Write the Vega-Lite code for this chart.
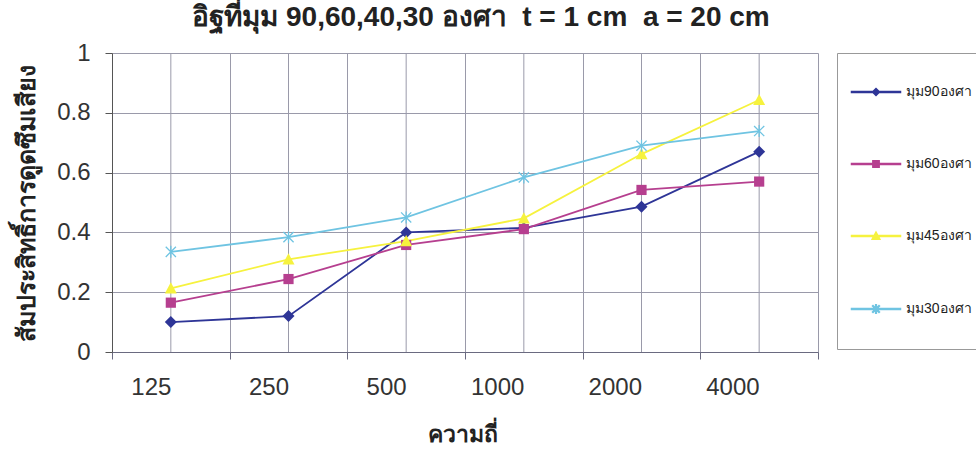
{
  "$schema": "https://vega.github.io/schema/vega-lite/v6.json",
  "autosize": {"type": "none"},
  "width": 706,
  "height": 299,
  "padding": {"left": 112, "top": 53, "right": 158, "bottom": 104},
  "background": "white",
  "title": {
    "text": "อิฐที่มุม 90,60,40,30 องศา\u00a0\u00a0t = 1 cm\u00a0\u00a0a = 20 cm",
    "font": "Liberation Sans, sans-serif",
    "fontSize": 28,
    "fontWeight": "bold",
    "color": "#222",
    "anchor": "middle",
    "dx": 16,
    "dy": 36,
    "baseline": "alphabetic",
    "offset": 23
  },
  "config": {
    "view": {"stroke": null},
    "axis": {"labelFont": "Liberation Sans, sans-serif", "titleFont": "Liberation Sans, sans-serif"}
  },
  "datasets": {
    "main": [
      {"freq": 125, "series": "มุม90องศา", "alpha": 0.10},
      {"freq": 250, "series": "มุม90องศา", "alpha": 0.12},
      {"freq": 500, "series": "มุม90องศา", "alpha": 0.40},
      {"freq": 1000, "series": "มุม90องศา", "alpha": 0.415},
      {"freq": 2000, "series": "มุม90องศา", "alpha": 0.486},
      {"freq": 4000, "series": "มุม90องศา", "alpha": 0.67},
      {"freq": 125, "series": "มุม60องศา", "alpha": 0.165},
      {"freq": 250, "series": "มุม60องศา", "alpha": 0.244},
      {"freq": 500, "series": "มุม60องศา", "alpha": 0.358},
      {"freq": 1000, "series": "มุม60องศา", "alpha": 0.411},
      {"freq": 2000, "series": "มุม60องศา", "alpha": 0.542},
      {"freq": 4000, "series": "มุม60องศา", "alpha": 0.57},
      {"freq": 125, "series": "มุม45องศา", "alpha": 0.213},
      {"freq": 250, "series": "มุม45องศา", "alpha": 0.31},
      {"freq": 500, "series": "มุม45องศา", "alpha": 0.371},
      {"freq": 1000, "series": "มุม45องศา", "alpha": 0.447},
      {"freq": 2000, "series": "มุม45องศา", "alpha": 0.662},
      {"freq": 4000, "series": "มุม45องศา", "alpha": 0.843},
      {"freq": 125, "series": "มุม30องศา", "alpha": 0.335},
      {"freq": 250, "series": "มุม30องศา", "alpha": 0.384},
      {"freq": 500, "series": "มุม30องศา", "alpha": 0.45},
      {"freq": 1000, "series": "มุม30องศา", "alpha": 0.584},
      {"freq": 2000, "series": "มุม30องศา", "alpha": 0.69},
      {"freq": 4000, "series": "มุม30องศา", "alpha": 0.739}
    ],
    "cats": [
      {"freq": 125}, {"freq": 250}, {"freq": 500}, {"freq": 1000}, {"freq": 2000}, {"freq": 4000}
    ]
  },
  "layer": [
    {
      "data": {"name": "cats"},
      "mark": {"type": "rule", "color": "#9a9aaa", "strokeWidth": 1},
      "encoding": {
        "x": {"field": "freq", "type": "ordinal", "scale": {"paddingInner": 0, "paddingOuter": 0}}
      }
    },
    {
      "data": {"name": "main"},
      "transform": [{"filter": "false"}],
      "mark": {"type": "point", "filled": true},
      "encoding": {
        "x": {"field": "freq", "type": "ordinal"},
        "y": {"field": "alpha", "type": "quantitative"},
        "color": {
          "field": "series", "type": "nominal",
          "scale": {
            "domain": ["มุม90องศา", "มุม60องศา", "มุม45องศา", "มุม30องศา"],
            "range": ["#2e3597", "#b63f8f", "#f6f23e", "#6fc4e2"]
          },
          "legend": {
            "title": null,
            "orient": "none",
            "legendX": 725,
            "legendY": 0,
            "strokeColor": "#999",
            "fillColor": "white",
            "padding": 32,
            "rowPadding": 58,
            "symbolSize": 49,
            "symbolOpacity": 1,
            "labelFontSize": 14,
            "labelFont": "Liberation Sans, sans-serif",
            "labelColor": "#222",
            "labelOffset": 23
          }
        },
        "shape": {
          "field": "series", "type": "nominal",
          "scale": {
            "domain": ["มุม90องศา", "มุม60องศา", "มุม45องศา", "มุม30องศา"],
            "range": [
              "M-7,-0.13H7V0.13H-7ZM0,-1L1,0L0,1L-1,0Z",
              "M-7,-0.13H7V0.13H-7ZM-0.9,-0.9H0.9V0.9H-0.9Z",
              "M-7,-0.13H7V0.13H-7ZM0,-1.1L1.1,0.9H-1.1Z",
              "M-7,-0.13H7V0.13H-7ZM-1,-0.85L-0.85,-1L1,0.85L0.85,1ZM-0.85,1L-1,0.85L0.85,-1L1,-0.85ZM-0.1,-1.2H0.1V1.2H-0.1Z"
            ]
          },
          "legend": {
            "title": null,
            "orient": "none",
            "legendX": 725,
            "legendY": 0,
            "strokeColor": "#999",
            "fillColor": "white",
            "padding": 32,
            "rowPadding": 58,
            "symbolSize": 49,
            "symbolOpacity": 1,
            "labelFontSize": 14,
            "labelFont": "Liberation Sans, sans-serif",
            "labelColor": "#222",
            "labelOffset": 23
          }
        }
      }
    },
    {
      "data": {"name": "main"},
      "mark": {"type": "line", "strokeWidth": 1.8},
      "encoding": {
        "x": {
          "field": "freq", "type": "ordinal",
          "scale": {"paddingInner": 0, "paddingOuter": 0},
          "axis": {
            "title": "ความถี่",
            "titleFontSize": 23,
            "titleFontWeight": "bold",
            "titleColor": "#222",
            "titleX": 350,
            "titleY": 82,
            "titleBaseline": "middle",
            "titleAlign": "center",
            "labelAngle": 0,
            "labelFontSize": 24,
            "labelColor": "#333",
            "labelPadding": 28,
            "tickBand": "extent",
            "tickSize": 7,
            "tickColor": "#6a6a80",
            "domainColor": "#6a6a80",
            "grid": true,
            "gridColor": "#9a9aaa"
          }
        },
        "y": {
          "field": "alpha", "type": "quantitative",
          "scale": {"domain": [0, 1], "nice": false},
          "axis": {
            "title": "สัมประสิทธิ์การดูดซึมเสียง",
            "titleFontSize": 25,
            "titleFontWeight": "bold",
            "titleColor": "#222",
            "titleAngle": -90,
            "titleX": -86,
            "titleY": 150,
            "titleAlign": "center",
            "titleBaseline": "middle",
            "values": [0, 0.2, 0.4, 0.6, 0.8, 1],
            "format": "~g",
            "labelFontSize": 24,
            "labelColor": "#333",
            "labelPadding": 15,
            "tickSize": 7,
            "tickColor": "#555",
            "domainColor": "#555",
            "grid": true,
            "gridColor": "#9a9aaa"
          }
        },
        "color": {"field": "series", "type": "nominal"}
      }
    },
    {
      "data": {"name": "main"},
      "transform": [{"filter": "datum.series === 'มุม90องศา'"}],
      "mark": {"type": "point", "filled": true, "size": 144, "opacity": 1, "shape": "M0,-1L1,0L0,1L-1,0Z"},
      "encoding": {
        "x": {"field": "freq", "type": "ordinal"},
        "y": {"field": "alpha", "type": "quantitative"},
        "color": {"field": "series", "type": "nominal"}
      }
    },
    {
      "data": {"name": "main"},
      "transform": [{"filter": "datum.series === 'มุม60องศา'"}],
      "mark": {"type": "point", "filled": true, "size": 144, "opacity": 1, "shape": "M-0.85,-0.85H0.85V0.85H-0.85Z"},
      "encoding": {
        "x": {"field": "freq", "type": "ordinal"},
        "y": {"field": "alpha", "type": "quantitative"},
        "color": {"field": "series", "type": "nominal"}
      }
    },
    {
      "data": {"name": "main"},
      "transform": [{"filter": "datum.series === 'มุม45องศา'"}],
      "mark": {"type": "point", "filled": true, "size": 144, "opacity": 1, "shape": "M0,-1L1,0.85H-1Z"},
      "encoding": {
        "x": {"field": "freq", "type": "ordinal"},
        "y": {"field": "alpha", "type": "quantitative"},
        "color": {"field": "series", "type": "nominal"}
      }
    },
    {
      "data": {"name": "main"},
      "transform": [{"filter": "datum.series === 'มุม30องศา'"}],
      "mark": {"type": "point", "filled": false, "size": 144, "opacity": 1, "strokeWidth": 1.3, "shape": "M-0.85,-0.85L0.85,0.85M-0.85,0.85L0.85,-0.85M0,-1V1"},
      "encoding": {
        "x": {"field": "freq", "type": "ordinal"},
        "y": {"field": "alpha", "type": "quantitative"},
        "color": {"field": "series", "type": "nominal"}
      }
    }
  ]
}
